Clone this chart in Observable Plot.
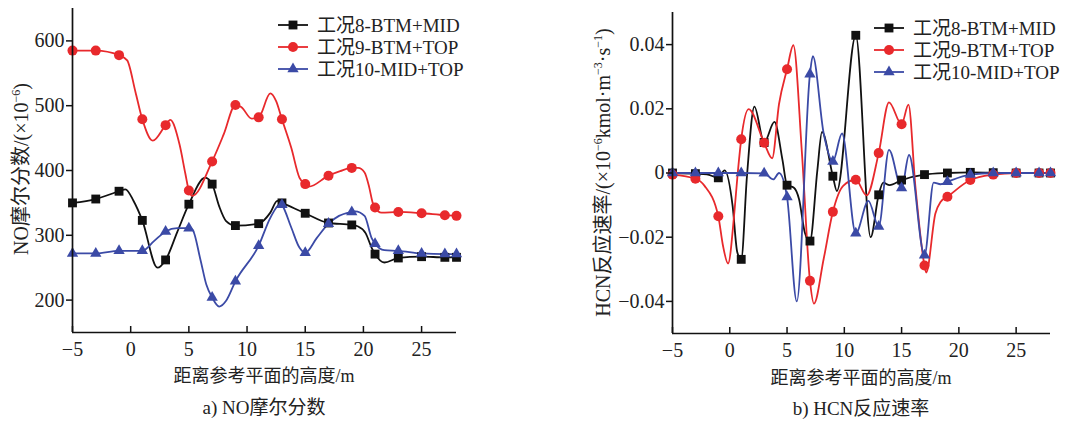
<!DOCTYPE html>
<html><head><meta charset="utf-8">
<script src="https://cdn.jsdelivr.net/npm/d3@7"></script>
<script src="https://cdn.jsdelivr.net/npm/@observablehq/plot@0.6"></script>
<style>
body{margin:0;background:#fff;}
#wrap{position:relative;width:1081px;height:421px;overflow:hidden;background:#fff;}
#pa{position:absolute;left:0;top:0;}
#pb{position:absolute;left:540px;top:0;}
</style></head><body><div id="wrap"><div id="pa"></div><div id="pb"></div></div>
<script>
// ---- categories / labels ----
const seriesNames = ["工况8-BTM+MID", "工况9-BTM+TOP", "工况10-MID+TOP"];
const seriesColors = ["#111111", "#e8292c", "#3b4aa6"];
const seriesSymbols = ["square", "circle", "triangle"];
const xTicks = [-5, 0, 5, 10, 15, 20, 25];
const noTicks = [200, 300, 400, 500, 600];
const hcnTicks = [-0.04, -0.02, 0, 0.02, 0.04];

// ---- a) NO mole fraction (x10^-6) ----
const noX8 = [-5, -3, -1, -0.45, 0.25, 1, 2.3, 3, 4, 5, 6.4, 7, 7.6, 8.2, 9, 11, 12, 12.6, 13, 15, 17, 19, 19.5, 20.2, 20.7, 21, 21.8, 23, 25, 27, 28];
const noY8 = [350, 356, 368, 371, 353, 323, 250, 262, 305, 348, 389, 379, 345, 322, 315, 318, 335, 353, 350, 334, 319, 316, 314, 303, 281, 271, 258, 265, 267, 266, 266];
const noX9 = [-5, -3, -1, -0.3, 0.4, 1, 1.9, 3, 3.4, 4.2, 4.7, 5, 5.3, 7, 8, 9, 9.5, 10.4, 11, 12, 12.5, 13, 13.8, 14.5, 15, 15.3, 17, 18, 19, 19.55, 20.1, 20.5, 20.8, 21, 21.55, 23, 25, 27, 28];
const noY9 = [585, 585, 578, 570, 522, 479, 446, 470, 478, 440, 395, 369, 361, 414, 456, 501, 498, 480, 482, 519, 507, 479, 435, 389, 379, 375, 392, 399, 404, 404, 397, 374, 350, 343, 335, 336, 334, 331, 330];
const noX10 = [-5, -3, -1, 1, 2, 3, 4, 5, 5.3, 6, 6.5, 7, 7.6, 8.2, 9, 11, 12, 12.9, 13, 13.8, 14.5, 15, 16, 17, 17.9, 19, 19.3, 20.1, 20.7, 21, 21.8, 23, 25, 27, 28];
const noY10 = [272, 272, 276, 276, 291, 306, 311, 311, 309, 262, 224, 204, 190, 199, 229, 284, 327, 349, 347, 312, 281, 273, 296, 318, 330, 336, 337, 330, 296, 287, 277, 276, 272, 271, 271];

// ---- b) HCN reaction rate (x10^-6 kmol m^-3 s^-1) ----
const hcnX8 = [-5, -3, -2, -1, -0.45, 0.25, 0.65, 1, 1.5, 2.15, 3, 3.9, 4.6, 5, 5.6, 6.05, 6.55, 7, 7.65, 8.05, 9, 9.35, 11, 12.3, 13, 13.4, 13.95, 15, 17, 19, 21, 23, 25, 27, 28];
const hcnY8 = [0, -0.0002, -0.0004, -0.0015, 0.0008, -0.0103, -0.0246, -0.0269, -0.001, 0.0207, 0.0095, 0.0159, 0.0041, -0.0038, -0.0046, -0.0082, -0.0185, -0.0212, 0.001, 0.0128, -0.001, -0.0056, 0.0429, -0.02, -0.0068, -0.003, -0.0038, -0.0022, -0.0005, 0, 0.0002, 0.0001, 0, 0, 0];
const hcnX9 = [-5, -3, -2.2, -1, -0.6, -0.15, 0.4, 0.67, 1, 1.65, 3, 3.7, 4.3, 5, 5.55, 6.3, 7, 7.35, 8.2, 9, 9.9, 11, 11.95, 13, 13.9, 15, 15.6, 16.2, 17, 17.15, 17.95, 18.4, 19, 21, 23, 25, 27, 28];
const hcnY9 = [-0.0005, -0.0018, -0.004, -0.0135, -0.0225, -0.0282, -0.0123, -0.001, 0.0105, 0.0199, 0.0094, 0.0046, 0.0215, 0.0323, 0.0398, 0.0062, -0.0336, -0.0407, -0.0267, -0.0121, -0.004, -0.0021, -0.007, 0.0062, 0.022, 0.0152, 0.0213, -0.004, -0.0288, -0.031, -0.0126, -0.009, -0.0074, -0.0022, -0.0005, 0, 0, 0];
const hcnX10 = [-5, -3, -1, 1, 3, 3.8, 4.3, 5, 5.85, 7, 7.25, 8.2, 9, 9.8, 11, 12.1, 13, 13.9, 15, 15.65, 17, 17.8, 18.4, 19, 21, 23, 25, 27, 28];
const hcnY10 = [0, 0, 0, 0, -0.0001, -0.002, 0, -0.0075, -0.04, 0.0308, 0.0364, 0.0123, 0.0036, 0.0123, -0.0188, -0.0087, -0.0167, 0.0072, -0.0047, 0.0056, -0.0256, -0.003, -0.0035, -0.0027, -0.0005, 0, 0, 0, 0];

const FONT = "'Liberation Serif','Times New Roman','Noto Sans CJK SC',serif";
const TEXT = "#222";
const markerR = [5.0, 5.0, 4.2];
const fmt = d => String(d).replace("-", "\u2212");

function buildRows(xsList, ysList) {
  return xsList.flatMap((xs, i) => xs.map((x, j) => ({x, y: ysList[i][j], k: seriesNames[i], r: markerR[i]})));
}
const isMarker = d => Number.isInteger(d.x) && (Math.abs(d.x) % 2 === 1 || d.x === 28);

function panel(cfg) {
  const rows = buildRows(cfg.xs, cfg.ys);
  const svg = Plot.plot({
    width: cfg.width, height: cfg.height,
    marginLeft: cfg.m[0], marginRight: cfg.m[1], marginTop: cfg.m[2], marginBottom: cfg.m[3],
    style: {fontFamily: FONT, fontSize: cfg.tickFont + "px", color: TEXT, background: "transparent", overflow: "visible"},
    x: {domain: [-5, 28]},
    y: {domain: cfg.yDomain},
    r: {type: "identity"},
    color: {domain: seriesNames, range: seriesColors},
    symbol: {domain: seriesNames, range: seriesSymbols},
    marks: [
      Plot.line(rows, {x: "x", y: "y", z: "k", stroke: "k", curve: "monotone-x", strokeWidth: 1.8}),
      Plot.dot(rows.filter(isMarker), {x: "x", y: "y", fill: "k", symbol: "k", r: "r"}),
      Plot.ruleX([-5], {stroke: "#111", strokeWidth: 1.7}),
      Plot.ruleY([cfg.yDomain[0]], {stroke: "#111", strokeWidth: 1.7}),
      Plot.axisY({ticks: cfg.yTicks, tickFormat: fmt, tickSize: 6, tickPadding: 2, fontSize: cfg.tickFont, strokeWidth: 1.5, stroke: "#111", fill: TEXT, label: null}),
      Plot.axisX({ticks: xTicks, tickSize: -6, strokeWidth: 1.5, stroke: "#111", tickFormat: () => null, label: null}),
      Plot.axisX({ticks: xTicks, tickFormat: fmt, tickSize: 0, tickPadding: 9, fontSize: cfg.tickFont, fill: TEXT, label: null})
    ]
  });
  const x = svg.scale("x"), y = svg.scale("y");
  const s = d3.select(svg);
  const cx = (x.range[0] + x.range[1]) / 2;
  const bottom = y.range[0], top = y.range[1];
  // y title with superscripts
  const yt = s.append("text")
    .attr("transform", `translate(${cfg.yTitleX},${(top + bottom) / 2 + cfg.yTitleDy}) rotate(-90)`)
    .attr("text-anchor", "middle").attr("font-family", FONT)
    .attr("font-size", cfg.yTitleFont).attr("fill", TEXT);
  let pending = 0;
  const fs = cfg.yTitleFont;
  for (const [t, sup] of cfg.yTitle) {
    const ts = yt.append("tspan").text(t);
    if (sup) {
      ts.attr("font-size", fs * 0.6).attr("dy", -fs * 0.42);
      pending = fs * 0.42;
    } else if (pending) {
      ts.attr("dy", pending); pending = 0;
    }
  }
  // x title
  s.append("text").attr("x", cx).attr("y", bottom + cfg.xTitleDy).attr("text-anchor", "middle")
    .attr("font-family", FONT).attr("font-size", 18).attr("fill", TEXT).text("距离参考平面的高度/m");
  // caption
  s.append("text").attr("x", cx).attr("y", bottom + cfg.captionDy).attr("text-anchor", "middle")
    .attr("font-family", FONT).attr("font-size", 19).attr("fill", TEXT).text(cfg.caption);
  // legend
  const lg = s.append("g").attr("text-anchor", "start");
  seriesNames.forEach((name, i) => {
    const ly = cfg.legend.y + i * cfg.legend.gap;
    lg.append("line").attr("x1", cfg.legend.x).attr("x2", cfg.legend.x + 30).attr("y1", ly).attr("y2", ly)
      .attr("stroke", seriesColors[i]).attr("stroke-width", 1.8);
    const sym = [d3.symbolSquare, d3.symbolCircle, d3.symbolTriangle][i];
    lg.append("path").attr("d", d3.symbol(sym, Math.PI * markerR[i] * markerR[i])())
      .attr("transform", `translate(${cfg.legend.x + 15},${ly})`).attr("fill", seriesColors[i]);
    lg.append("text").attr("x", cfg.legend.x + 39).attr("y", ly + 6.5).attr("text-anchor", "start")
      .attr("font-family", FONT).attr("font-size", 19).attr("fill", TEXT).text(name);
  });
  document.getElementById(cfg.el).appendChild(svg);
}

panel({
  el: "pa", width: 540, height: 421, m: [72, 84, 8, 89],
  xs: [noX8, noX9, noX10], ys: [noY8, noY9, noY10],
  yDomain: [150, 650], yTicks: noTicks, tickFont: 20,
  yTitle: [["NO摩尔分数/(×10", false], ["−6", true], [")", false]],
  yTitleX: 28, yTitleDy: -1, yTitleFont: 20,
  xTitleDy: 50, captionDy: 82,
  caption: "a) NO摩尔分数",
  legend: {x: 278, y: 25, gap: 22}
});
panel({
  el: "pb", width: 541, height: 421, m: [132, 31, 12, 88],
  xs: [hcnX8, hcnX9, hcnX10], ys: [hcnY8, hcnY9, hcnY10],
  yDomain: [-0.05, 0.05], yTicks: hcnTicks, tickFont: 20,
  yTitle: [["HCN反应速率/(×10", false], ["−6", true], ["kmol·m", false], ["−3", true], ["·s", false], ["−1", true], [")", false]],
  yTitleX: 70, yTitleDy: 0, yTitleFont: 20,
  xTitleDy: 51, captionDy: 82,
  caption: "b) HCN反应速率",
  legend: {x: 334, y: 28, gap: 22}
});
</script></body></html>
